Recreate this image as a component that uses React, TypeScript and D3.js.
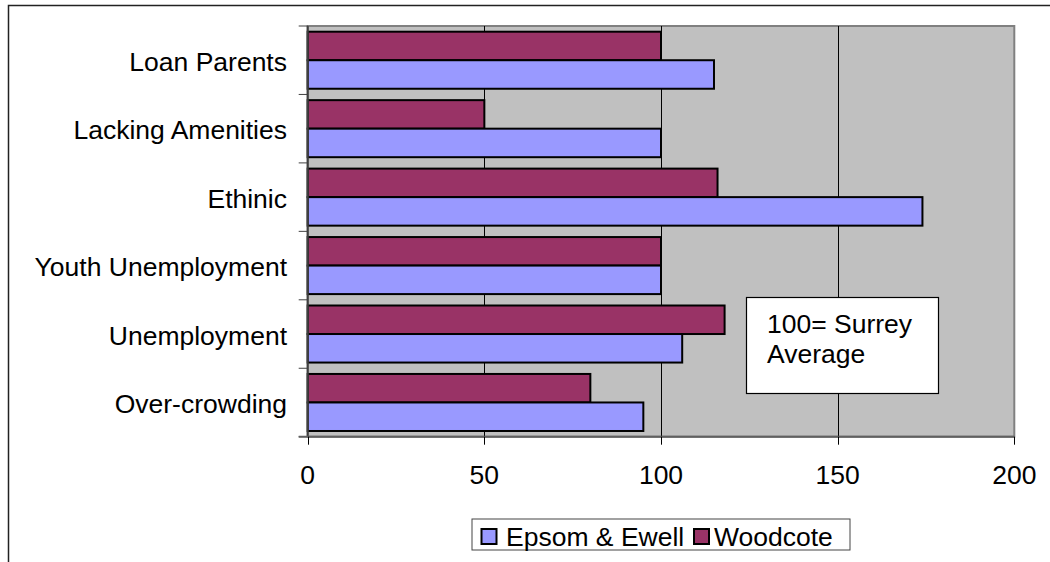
import React from "react";
import * as d3 from "d3";

const categories = ["Loan Parents", "Lacking Amenities", "Ethinic", "Youth Unemployment", "Unemployment", "Over-crowding"];
const woodcote = [100, 50, 116, 100, 118, 80];
const epsom = [115, 100, 174, 100, 106, 95];
const xTicks = [0, 50, 100, 150, 200];
const seriesNames = ["Epsom & Ewell", "Woodcote"];
const seriesColors = ["#9999FF", "#993366"];
const noteLines = ["100= Surrey", "Average"];

const W = 1050, H = 562;
const plot = { left: 307.7, right: 1014.3, top: 26, bottom: 436.7 };
const FONT = "Liberation Sans, Arial, sans-serif";
const FS = 26.5;

export default function App() {
  const x = d3.scaleLinear().domain([0, 200]).range([plot.left, plot.right]);
  const y = d3.scaleBand<string>().domain(categories).range([plot.top, plot.bottom]).paddingInner(0).paddingOuter(0);
  const inner = d3.scaleBand<string>().domain(["Woodcote", "Epsom & Ewell"]).range([0, y.bandwidth()]).paddingInner(0).paddingOuter(0.2);

  return (
    <svg width={W} height={H} style={{ position: "absolute", left: 0, top: 0 }} fontFamily={FONT}>
      <rect x={0} y={0} width={W} height={H} fill="#fff" />
      {/* chart border */}
      <rect x={8.5} y={5.5} width={1100} height={700} fill="none" stroke="#222" strokeWidth={1.5} />
      {/* plot area */}
      <rect x={plot.left} y={plot.top} width={plot.right - plot.left} height={plot.bottom - plot.top} fill="#C0C0C0" stroke="#808080" strokeWidth={2} />
      {/* gridlines */}
      {xTicks.filter((t) => t > 0 && t < 200).map((t) => (
        <line key={t} x1={Math.round(x(t)) + 0.5} x2={Math.round(x(t)) + 0.5} y1={plot.top} y2={plot.bottom} stroke="#000" strokeWidth={1} />
      ))}
      {/* bars */}
      {categories.map((c, i) => {
        const y0 = y(c)!;
        return (
          <g key={c}>
            <rect x={x(0)} y={y0 + inner("Woodcote")!} width={x(woodcote[i]) - x(0)} height={inner.bandwidth()} fill={seriesColors[1]} stroke="#000" strokeWidth={2} />
            <rect x={x(0)} y={y0 + inner("Epsom & Ewell")!} width={x(epsom[i]) - x(0)} height={inner.bandwidth()} fill={seriesColors[0]} stroke="#000" strokeWidth={2} />
          </g>
        );
      })}
      {/* y axis */}
      <line x1={plot.left} x2={plot.left} y1={plot.top} y2={plot.bottom} stroke="#404040" strokeWidth={2} />
      {d3.range(categories.length + 1).map((i) => {
        const yy = plot.top + i * y.step();
        return <line key={i} x1={plot.left - 9} x2={plot.left} y1={yy} y2={yy} stroke="#404040" strokeWidth={1} />;
      })}
      {categories.map((c) => (
        <text key={c} x={287} y={y(c)! + y.bandwidth() / 2 + 10.5} textAnchor="end" fontSize={FS} fill="#000">{c}</text>
      ))}
      {/* x axis */}
      <line x1={plot.left - 9} x2={plot.right} y1={plot.bottom} y2={plot.bottom} stroke="#606060" strokeWidth={2} />
      {xTicks.map((t) => (
        <g key={t}>
          <line x1={Math.round(x(t)) + 0.5} x2={Math.round(x(t)) + 0.5} y1={plot.bottom} y2={plot.bottom + 8} stroke="#000" strokeWidth={1} />
          <text x={x(t)} y={484} textAnchor="middle" fontSize={FS} fill="#000">{t}</text>
        </g>
      ))}
      {/* note box */}
      <rect x={746.5} y={297.5} width={192} height={96} fill="#fff" stroke="#000" strokeWidth={1.2} />
      {noteLines.map((l, i) => (
        <text key={l} x={767} y={333 + i * 30} fontSize={FS} fill="#000">{l}</text>
      ))}
      {/* legend */}
      <rect x={472} y={519} width={378} height={31} fill="#fff" stroke="#444" strokeWidth={1} />
      <rect x={481.5} y={529} width={15} height={15} fill={seriesColors[0]} stroke="#000" strokeWidth={2} />
      <text x={506} y={546} fontSize={FS} fill="#000">{seriesNames[0]}</text>
      <rect x={694} y={529} width={15} height={15} fill={seriesColors[1]} stroke="#000" strokeWidth={2} />
      <text x={714} y={546} fontSize={FS} fill="#000">{seriesNames[1]}</text>
    </svg>
  );
}
